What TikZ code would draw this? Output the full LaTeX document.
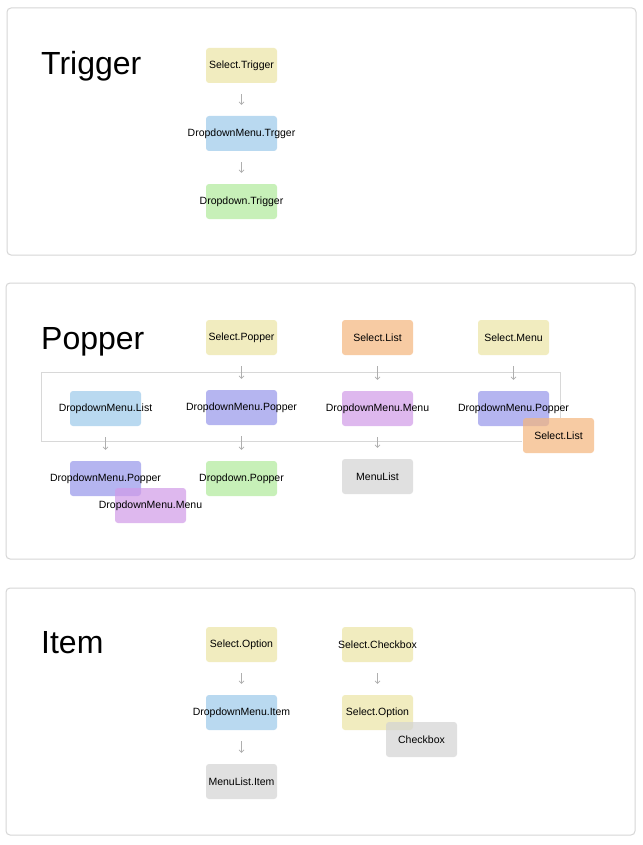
\documentclass[tikz,border=0pt]{standalone}
\usepackage{fontspec}
\setmainfont{Liberation Sans}
\usetikzlibrary{arrows.meta}
\definecolor{panelgray}{RGB}{214,214,214}
\definecolor{linegray}{RGB}{216,216,216}
\definecolor{arrowgray}{RGB}{175,175,175}
\definecolor{selectcol}{RGB}{236,229,165}
\definecolor{menucol}{RGB}{156,201,234}
\definecolor{dropcol}{RGB}{176,234,155}
\definecolor{listcol}{RGB}{245,181,124}
\definecolor{poppercol}{RGB}{151,151,234}
\definecolor{menuvcol}{RGB}{209,154,232}
\definecolor{plaincol}{RGB}{211,211,211}

\begin{document}
\begin{tikzpicture}[x=1pt, y=-1pt,
    panel/.style={draw=panelgray, line width=1pt, rounded corners=4pt},
    heading/.style={anchor=base west, inner sep=0pt, font=\fontsize{32}{36}\selectfont},
    part/.style={rounded corners=3pt, minimum width=71pt, minimum height=35pt, inner sep=0pt, fill opacity=0.7},
    lbl/.style={font=\fontsize{10.5}{12}\selectfont, inner sep=0pt, text opacity=1, text=black},
    flow/.style={draw=arrowgray, line width=0.7pt, -{Straight Barb[length=2.5pt,width=5pt]}, shorten <=11pt, shorten >=11pt}]
    \useasboundingbox[fill=white] (0,0) rectangle (642,845);

    % Panels
    \draw[panel] (7,8) rectangle (636,255);
    \draw[panel] (6,283) rectangle (635,559);
    \draw[panel] (6,588) rectangle (635,835);

    % Trigger
    \node[heading] (hTrig) at (41,74.5) {Trigger};
    \node[part, fill=selectcol, label={[lbl]center:Select.Trigger}] (selTrig) at (241.5,65.5) {};
    \node[part, fill=menucol, label={[lbl]center:DropdownMenu.Trgger}] (dmTrig) at (241.5,133.5) {};
    \node[part, fill=dropcol, label={[lbl]center:Dropdown.Trigger}] (ddTrig) at (241.5,201.5) {};
    \draw[flow] (selTrig) -- (dmTrig);
    \draw[flow] (dmTrig) -- (ddTrig);

    % Popper
    \node[heading] (hPop) at (41,349.5) {Popper};
    \draw[linegray, line width=1pt] (522,441) -- (41,441) -- (41,372) -- (560,372) -- (560,418);
    \node[part, fill=selectcol, label={[lbl]center:Select.Popper}] (selPop) at (241.5,337.5) {};
    \node[part, fill=listcol, label={[lbl]center:Select.List}] (selList) at (377.5,337.5) {};
    \node[part, fill=selectcol, label={[lbl]center:Select.Menu}] (selMenu) at (513.5,337.5) {};
    \node[part, fill=menucol, label={[lbl]center:DropdownMenu.List}] (dmList) at (105.5,408.5) {};
    \node[part, fill=poppercol, label={[lbl]center:DropdownMenu.Popper}] (dmPop) at (241.5,407.5) {};
    \node[part, fill=menuvcol, label={[lbl]center:DropdownMenu.Menu}] (dmMenu) at (377.5,408.5) {};
    \node[part, fill=poppercol, label={[lbl]center:DropdownMenu.Popper}] (dmPopB) at (513.5,408.5) {};
    \node[part, fill=listcol, label={[lbl]center:Select.List}] (selListB) at (558.5,435.5) {};
    \node[part, fill=poppercol, label={[lbl]center:DropdownMenu.Popper}] (dmPopC) at (105.5,478.5) {};
    \node[part, fill=menuvcol, label={[lbl]center:DropdownMenu.Menu}] (dmMenuB) at (150.5,505.5) {};
    \node[part, fill=dropcol, label={[lbl]center:Dropdown.Popper}] (ddPop) at (241.5,478.5) {};
    \node[part, fill=plaincol, label={[lbl]center:MenuList}] (mList) at (377.5,476.5) {};
    \draw[flow] (selPop) -- (dmPop);
    \draw[flow] (selList) -- (dmMenu);
    \draw[flow] (selMenu) -- (dmPopB);
    \draw[flow] (dmList) -- (dmPopC);
    \draw[flow] (dmPop) -- (ddPop);
    \draw[flow] (dmMenu) -- (mList);

    % Item
    \node[heading] (hItem) at (41,653.5) {Item};
    \node[part, fill=selectcol, label={[lbl]center:Select.Option}] (selOpt) at (241.5,644.5) {};
    \node[part, fill=selectcol, label={[lbl]center:Select.Checkbox}] (selCheck) at (377.5,644.5) {};
    \node[part, fill=menucol, label={[lbl]center:DropdownMenu.Item}] (dmItem) at (241.5,712.5) {};
    \node[part, fill=selectcol, label={[lbl]center:Select.Option}] (selOptB) at (377.5,712.5) {};
    \node[part, fill=plaincol, label={[lbl]center:Checkbox}] (check) at (421.5,739.5) {};
    \node[part, fill=plaincol, label={[lbl]center:MenuList.Item}] (mItem) at (241.5,781.5) {};
    \draw[flow] (selOpt) -- (dmItem);
    \draw[flow] (selCheck) -- (selOptB);
    \draw[flow] (dmItem) -- (mItem);
\end{tikzpicture}
\end{document}
